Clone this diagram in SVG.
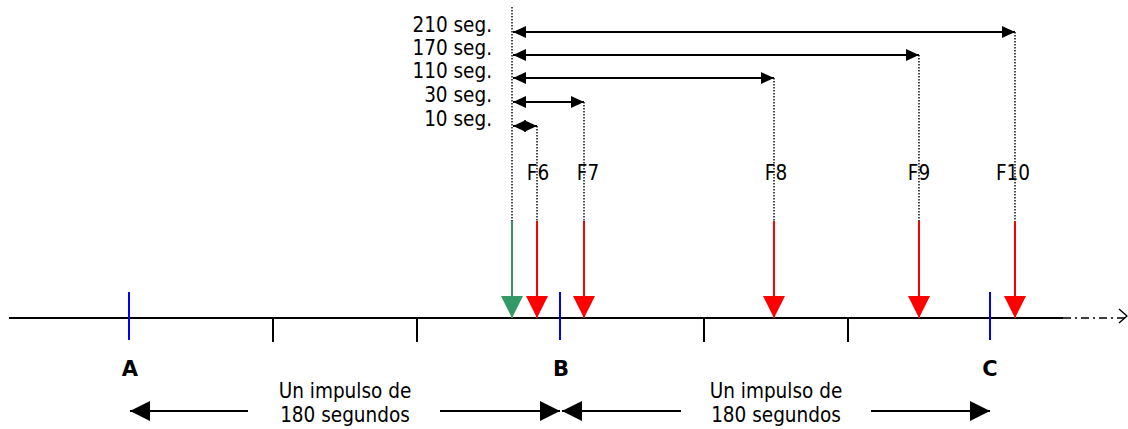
<svg xmlns="http://www.w3.org/2000/svg" width="1128" height="429" viewBox="0 0 1128 429">
<defs>
<style>
text{font-family:"DejaVu Sans Condensed","DejaVu Sans",Verdana,sans-serif;font-size:20.5px;fill:#000}
.lbl{text-anchor:end}
.mid{text-anchor:middle}
.bold{font-family:"DejaVu Sans","DejaVu Sans Condensed",Verdana,sans-serif;font-weight:bold;font-size:21px;text-anchor:middle}
.dot{stroke:#000;stroke-width:1.4;stroke-dasharray:1.5 1.5;fill:none}
.dur{stroke:#000;stroke-width:2;fill:none;marker-start:url(#hs);marker-end:url(#he)}
.ev{stroke-width:2;fill:none}
.red{stroke:#ff0000}
.grn{stroke:#339966}
.tick{stroke:#000;stroke-width:2}
.blue{stroke:#0000ff;stroke-width:2}
.span{stroke:#000;stroke-width:2;fill:none}
</style>
<marker id="hs" markerUnits="userSpaceOnUse" markerWidth="13" markerHeight="12" refX="0" refY="6" orient="auto" viewBox="0 0 13 12"><path d="M0,6 L13,0 L13,12 Z" fill="#000"/></marker>
<marker id="he" markerUnits="userSpaceOnUse" markerWidth="13" markerHeight="12" refX="13" refY="6" orient="auto" viewBox="0 0 13 12"><path d="M13,6 L0,0 L0,12 Z" fill="#000"/></marker>
<marker id="bh" markerUnits="userSpaceOnUse" markerWidth="20" markerHeight="20" refX="20" refY="10" orient="auto" viewBox="0 0 20 20"><path d="M20,10 L0,0 L0,20 Z" fill="#000"/></marker>
<marker id="rh" markerUnits="userSpaceOnUse" markerWidth="22" markerHeight="22" refX="22" refY="11" orient="auto" viewBox="0 0 22 22"><path d="M22,11 L0,0 L0,22 Z" fill="#ff0000"/></marker>
<marker id="gh" markerUnits="userSpaceOnUse" markerWidth="22" markerHeight="22" refX="22" refY="11" orient="auto" viewBox="0 0 22 22"><path d="M22,11 L0,0 L0,22 Z" fill="#339966"/></marker>
</defs>
<rect width="1128" height="429" fill="#fff"/>

<g id="timeline">
<line x1="9" y1="318" x2="1063" y2="318" stroke="#000" stroke-width="2"/>
<line x1="1063" y1="318" x2="1126" y2="318" stroke="#000" stroke-width="1.5" stroke-dasharray="8 4 2 4"/>
<polyline points="1119,309 1127,316 1119,323" fill="none" stroke="#000" stroke-width="1.5"/>
<line class="tick" x1="273" y1="318" x2="273" y2="342"/>
<line class="tick" x1="417" y1="318" x2="417" y2="342"/>
<line class="tick" x1="704" y1="318" x2="704" y2="342"/>
<line class="tick" x1="848" y1="318" x2="848" y2="342"/>
</g>

<g id="point-A"><line class="blue" x1="129" y1="292" x2="129" y2="340"/><text class="bold" x="130" y="376">A</text></g>
<g id="point-B"><line class="blue" x1="560" y1="292" x2="560" y2="340"/><text class="bold" x="561" y="376">B</text></g>
<g id="point-C"><line class="blue" x1="990" y1="292" x2="990" y2="340"/><text class="bold" x="990" y="376">C</text></g>

<g id="labels">
<text class="lbl" x="492" y="32">210 seg.</text>
<text class="lbl" x="492" y="55">170 seg.</text>
<text class="lbl" x="492" y="78">110 seg.</text>
<text class="lbl" x="492" y="102">30 seg.</text>
<text class="lbl" x="492" y="126">10 seg.</text>
</g>

<g id="start"><line class="ev grn" x1="512" y1="221" x2="512" y2="318" marker-end="url(#gh)"/></g>
<g id="F6"><line class="ev red" x1="537" y1="221" x2="537" y2="318" marker-end="url(#rh)"/><text class="mid" x="538" y="180">F6</text></g>
<g id="F7"><line class="ev red" x1="584" y1="221" x2="584" y2="318" marker-end="url(#rh)"/><text class="mid" x="588" y="180">F7</text></g>
<g id="F8"><line class="ev red" x1="774" y1="221" x2="774" y2="318" marker-end="url(#rh)"/><text class="mid" x="776" y="180">F8</text></g>
<g id="F9"><line class="ev red" x1="919" y1="221" x2="919" y2="318" marker-end="url(#rh)"/><text class="mid" x="919" y="180">F9</text></g>
<g id="F10"><line class="ev red" x1="1015" y1="221" x2="1015" y2="318" marker-end="url(#rh)"/><text class="mid" x="1013" y="180">F10</text></g>

<g id="connectors">
<line class="dot" x1="512" y1="7" x2="512" y2="221"/>
<line class="dot" x1="537" y1="126" x2="537" y2="221"/>
<line class="dot" x1="584" y1="102" x2="584" y2="221"/>
<line class="dot" x1="774" y1="78" x2="774" y2="221"/>
<line class="dot" x1="919" y1="55" x2="919" y2="221"/>
<line class="dot" x1="1015" y1="32" x2="1015" y2="221"/>
<line class="dur" x1="513" y1="32" x2="1015" y2="32"/>
<line class="dur" x1="513" y1="55" x2="919" y2="55"/>
<line class="dur" x1="513" y1="78" x2="774" y2="78"/>
<line class="dur" x1="513" y1="102" x2="584" y2="102"/>
<line class="dur" x1="513" y1="126" x2="537" y2="126"/>
<line class="span" x1="248" y1="411" x2="130" y2="411" marker-end="url(#bh)"/>
<line class="span" x1="440" y1="411" x2="560" y2="411" marker-end="url(#bh)"/>
<line class="span" x1="681" y1="411" x2="562" y2="411" marker-end="url(#bh)"/>
<line class="span" x1="871" y1="411" x2="990" y2="411" marker-end="url(#bh)"/>
</g>

<g id="span-AB"><text class="mid" x="345" y="398">Un impulso de</text><text class="mid" x="345" y="422">180 segundos</text></g>
<g id="span-BC"><text class="mid" x="776" y="398">Un impulso de</text><text class="mid" x="776" y="422">180 segundos</text></g>
</svg>
